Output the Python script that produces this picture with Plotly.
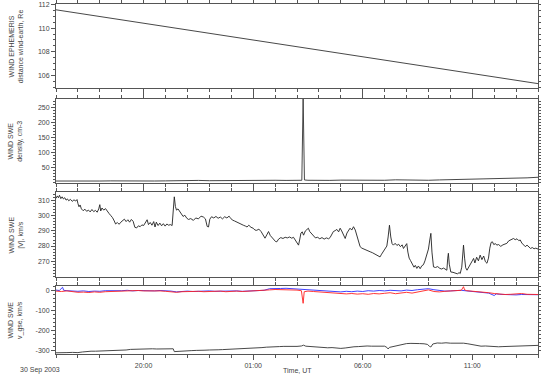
import pandas as pd
import plotly.graph_objects as go

T0 = pd.Timestamp("2003-09-30 16:00")

# ---------------- data (hours after 16:00 UT, 30 Sep 2003) ----------------
EPH_T = [0, 6, 12, 18, 22]
EPH_R = [111.55, 109.85, 108.15, 106.45, 105.3]

DEN_T = [0, 0.5, 1, 1.5, 2, 2.5, 3, 3.5, 4, 4.5, 5, 5.5, 6, 6.5, 7, 7.5, 8, 8.5, 9, 9.5,
         10, 10.5, 11, 11.22, 11.28, 11.34, 11.5, 12, 12.5, 13, 13.5, 14, 14.5, 15, 15.5,
         16, 16.5, 17, 17.5, 18, 18.5, 19, 19.5, 20, 20.5, 21, 21.5, 22]
DEN_N = [6.5, 6.0, 6.8, 6.2, 6.5, 7.0, 6.3, 6.8, 7.2, 6.6, 7.0, 7.8, 7.2, 8.5, 7.6, 8.0,
         9.5, 8.2, 8.8, 10.0, 9.0, 8.5, 9.2, 9.0, 280, 10.0, 9.0, 8.0, 8.6, 9.5, 8.8, 9.2,
         8.4, 9.0, 10.5, 9.5, 10.0, 9.0, 10.2, 11.0, 10.0, 11.5, 12.5, 13.0, 14.5, 15.5,
         17.0, 19.0]

V_T = [0.00, 0.06, 0.11, 0.16, 0.22, 0.28, 0.34, 0.40, 0.46, 0.52, 0.58, 0.66, 0.74, 0.82,
       0.90, 0.96, 1.00, 1.05, 1.10, 1.16, 1.24, 1.32, 1.40, 1.48, 1.56, 1.64, 1.72, 1.80,
       1.88, 1.95, 2.00, 2.04, 2.10, 2.18, 2.26, 2.34, 2.42, 2.50, 2.58, 2.66, 2.72, 2.80,
       2.88, 2.96, 3.04, 3.12, 3.20, 3.28, 3.36, 3.44, 3.52, 3.60, 3.68, 3.76, 3.84, 3.92,
       4.00, 4.08, 4.16, 4.22, 4.30, 4.38, 4.46, 4.52, 4.58, 4.66, 4.74, 4.82, 4.90, 4.98,
       5.06, 5.14, 5.22, 5.30, 5.36, 5.40, 5.45, 5.50, 5.57, 5.64, 5.72, 5.80, 5.88, 5.97,
       6.05, 6.15, 6.27, 6.38, 6.50, 6.62, 6.73, 6.82, 6.90, 6.96, 7.02, 7.10, 7.20, 7.30,
       7.40, 7.50, 7.60, 7.70, 7.80, 7.90, 7.95, 8.05, 8.15, 8.25, 8.35, 8.45, 8.55, 8.65,
       8.72, 8.80, 8.90, 9.00, 9.08, 9.16, 9.26, 9.36, 9.46, 9.54, 9.62, 9.70, 9.78, 9.86,
       9.94, 10.02, 10.08, 10.16, 10.26, 10.36, 10.46, 10.56, 10.66, 10.76, 10.84, 10.94,
       11.02, 11.07, 11.12, 11.18, 11.24, 11.30, 11.38, 11.46, 11.52, 11.58, 11.66, 11.75,
       11.84, 11.94, 12.04, 12.14, 12.24, 12.34, 12.44, 12.51, 12.58, 12.66, 12.74, 12.82,
       12.90, 12.97, 13.04, 13.12, 13.20, 13.28, 13.36, 13.42, 13.50, 13.58, 13.66, 13.74,
       13.82, 13.88, 13.96, 14.04, 14.14, 14.24, 14.34, 14.44, 14.54, 14.64, 14.72, 14.79,
       14.86, 14.94, 15.02, 15.10, 15.16, 15.22, 15.28, 15.34, 15.40, 15.48, 15.56, 15.64,
       15.72, 15.80, 15.86, 15.94, 16.01, 16.06, 16.12, 16.18, 16.26, 16.34, 16.40, 16.47,
       16.54, 16.62, 16.70, 16.77, 16.84, 16.93, 17.00, 17.06, 17.11, 17.16, 17.23, 17.32,
       17.42, 17.52, 17.60, 17.69, 17.76, 17.84, 17.88, 17.91, 17.95, 18.02, 18.12, 18.22,
       18.32, 18.40, 18.45, 18.52, 18.56, 18.60, 18.65, 18.70, 18.76, 18.84, 18.92, 19.00,
       19.06, 19.12, 19.20, 19.28, 19.36, 19.44, 19.52, 19.60, 19.67, 19.74, 19.80, 19.86,
       19.92, 19.98, 20.06, 20.12, 20.20, 20.30, 20.40, 20.50, 20.58, 20.66, 20.76, 20.88,
       20.96, 21.04, 21.12, 21.19, 21.26, 21.34, 21.42, 21.50, 21.58, 21.66, 21.74, 21.82,
       21.90, 22.00]
V_MAG = [311.6, 313.2, 312.0, 313.6, 311.4, 312.6, 311.2, 312.0, 310.4, 311.2, 310.0, 310.9,
         309.6, 310.6, 309.8, 310.8, 308.2, 306.0, 307.2, 304.6, 303.4, 304.4, 303.0, 303.8,
         302.6, 304.2, 302.8, 303.6, 302.4, 304.6, 307.4, 303.2, 305.2, 303.8, 304.8, 302.8,
         301.6, 300.2, 298.8, 296.6, 294.6, 295.6, 294.4, 295.8, 296.8, 297.8, 296.2, 297.4,
         295.8, 297.6, 296.4, 292.4, 292.0, 293.4, 292.8, 294.0, 293.6, 295.2, 297.4, 294.2,
         295.6, 293.8, 296.2, 292.6, 295.8, 293.6, 295.2, 293.4, 294.8, 293.2, 294.6, 293.8,
         294.2, 293.6, 306.0, 312.6, 306.2, 303.8, 304.6, 303.2, 300.8, 299.6, 300.4, 298.4,
         297.6, 298.2, 297.0, 298.6, 298.0, 299.8, 299.2, 298.0, 293.0, 292.6, 297.8, 299.4,
         298.6, 299.6, 298.4, 299.2, 298.0, 299.4, 298.6, 299.8, 298.8, 297.2, 296.6, 295.8,
         295.2, 294.6, 293.8, 293.2, 292.6, 293.8, 292.4, 291.8, 290.6, 290.4, 291.2, 289.6,
         287.0, 285.2, 287.4, 289.6, 287.0, 285.6, 284.2, 283.0, 282.8, 284.6, 285.6, 285.0,
         285.8, 285.4, 286.0, 285.2, 285.8, 283.4, 281.6, 280.6, 284.0, 288.6, 289.4, 287.2,
         290.0, 290.8, 291.8, 289.6, 288.2, 286.2, 285.4, 285.8, 284.8, 285.6, 284.6, 285.4,
         284.8, 285.6, 287.8, 289.6, 290.2, 291.0, 289.4, 291.8, 290.0, 287.0, 285.0, 288.6,
         290.4, 291.8, 290.6, 292.8, 290.6, 286.8, 282.0, 279.6, 278.6, 278.0, 277.2, 276.6,
         276.2, 275.6, 274.8, 274.0, 273.4, 272.8, 274.6, 276.2, 278.4, 280.0, 286.0, 293.8,
         286.0, 281.6, 280.6, 281.8, 280.4, 281.2, 279.6, 280.8, 278.4, 280.4, 281.6, 276.0,
         272.0, 270.4, 268.2, 266.0, 267.2, 265.2, 266.8, 265.0, 267.0, 267.6, 270.2, 273.8,
         278.0, 284.0, 288.4, 276.0, 266.2, 265.8, 266.4, 265.2, 264.8, 265.4, 264.6, 264.0,
         272.0, 275.2, 268.0, 262.8, 262.6, 262.0, 261.6, 262.4, 261.8, 266.0, 274.0, 280.6,
         272.0, 265.6, 264.0, 266.4, 268.0, 270.2, 271.8, 268.8, 272.6, 270.2, 274.0, 271.0,
         273.4, 269.6, 268.6, 272.0, 278.6, 282.4, 282.8, 281.0, 281.6, 280.6, 281.0, 279.8,
         280.8, 281.4, 281.8, 283.4, 284.2, 285.0, 284.2, 284.8, 283.6, 284.0, 282.0, 280.4,
         279.6, 280.6, 279.4, 278.4, 279.0, 278.2, 278.6, 278.0]

VX_T = [0.0, 0.25, 0.5, 0.75, 1.0, 1.2, 1.4, 1.6, 1.8, 2.0, 2.2, 2.4, 2.6, 2.8, 3.0, 3.2,
        3.4, 3.6, 3.8, 4.0, 4.2, 4.4, 4.6, 4.8, 5.0, 5.2, 5.35, 5.40, 5.6, 5.8, 6.0, 6.2,
        6.4, 6.6, 6.8, 7.0, 7.2, 7.4, 7.6, 7.8, 8.0, 8.2, 8.4, 8.6, 8.8, 9.0, 9.2, 9.4,
        9.6, 9.8, 10.0, 10.2, 10.4, 10.6, 10.8, 11.0, 11.2, 11.3, 11.4, 11.6, 11.8, 12.0,
        12.2, 12.4, 12.6, 12.8, 13.0, 13.2, 13.4, 13.6, 13.8, 14.0, 14.2, 14.4, 14.6, 14.8,
        15.0, 15.1, 15.16, 15.22, 15.4, 15.6, 15.8, 16.0, 16.2, 16.4, 16.6, 16.8, 16.95,
        17.05, 17.11, 17.2, 17.4, 17.6, 17.8, 18.0, 18.2, 18.4, 18.6, 18.8, 19.0, 19.2,
        19.4, 19.6, 19.8, 20.0, 20.2, 20.4, 20.6, 20.8, 21.0, 21.2, 21.4, 21.6, 21.8, 22.0]
VX = [-310, -311, -309, -308, -309, -306, -303, -302, -302, -301, -302, -300, -299, -300,
      -298, -296, -293, -292, -291, -290, -291, -290, -291, -290, -289, -290, -290, -304,
      -302, -300, -301, -299, -298, -299, -297, -296, -297, -295, -294, -293, -293, -292,
      -291, -290, -288, -289, -286, -284, -282, -280, -281, -279, -278, -279, -277, -278,
      -276, -272, -277, -279, -281, -282, -283, -285, -284, -287, -288, -286, -282, -280,
      -279, -277, -276, -277, -276, -275, -277, -283, -291, -283, -278, -272, -268, -264,
      -263, -265, -264, -265, -268, -278, -281, -266, -261, -262, -260, -262, -261, -260,
      -262, -265, -270, -274, -277, -276, -278, -279, -280, -279, -278, -276, -275, -274,
      -273, -273, -272, -273]

VY_T = [0.0, 0.15, 0.3, 0.35, 0.5, 0.75, 1.0, 1.25, 1.5, 1.75, 2.0, 2.25, 2.5, 2.75, 3.0,
        3.25, 3.5, 3.75, 4.0, 4.25, 4.5, 4.75, 5.0, 5.25, 5.5, 5.75, 6.0, 6.25, 6.5, 6.75,
        7.0, 7.25, 7.5, 7.75, 8.0, 8.25, 8.5, 8.75, 9.0, 9.25, 9.5, 9.75, 10.0, 10.25, 10.5,
        10.75, 11.0, 11.25, 11.5, 11.75, 12.0, 12.25, 12.5, 12.75, 13.0, 13.25, 13.5, 13.75,
        14.0, 14.25, 14.5, 14.75, 15.0, 15.25, 15.5, 15.75, 16.0, 16.25, 16.5, 16.75, 17.0,
        17.25, 17.5, 17.75, 18.0, 18.25, 18.5, 18.75, 19.0, 19.25, 19.5, 19.75, 20.0, 20.1,
        20.25, 20.5, 20.75, 21.0, 21.25, 21.5, 21.75, 22.0]
VY = [3, 1, 17, 2, 0, -2, -3, -1, -4, -2, -3, 0, -1, 1, 0, 2, -1, 1, 0, 2, -1, 1, 0, -2,
      -6, -3, -2, -4, -2, -3, -1, -3, -2, -4, -2, -1, -3, -2, -1, 0, 2, 10, 12, 11, 12, 10,
      9, 6, 5, 3, 2, 0, -2, -4, -6, -3, -5, -2, -4, 0, -2, 1, -1, 2, 0, -1, 3, 1, 5, 8, 10,
      5, 1, -2, -1, 0, 2, -1, -3, -6, -8, -12, -24, -16, -18, -20, -19, -21, -19, -20, -22,
      -20]

VZ_T = [0.0, 0.25, 0.5, 0.75, 1.0, 1.25, 1.5, 1.75, 2.0, 2.25, 2.5, 2.75, 3.0, 3.25, 3.5,
        3.75, 4.0, 4.25, 4.5, 4.75, 5.0, 5.25, 5.5, 5.75, 6.0, 6.25, 6.5, 6.75, 7.0, 7.25,
        7.5, 7.75, 8.0, 8.25, 8.5, 8.75, 9.0, 9.25, 9.5, 9.75, 10.0, 10.25, 10.5, 10.75,
        11.0, 11.2, 11.28, 11.33, 11.5, 11.75, 12.0, 12.25, 12.5, 12.75, 13.0, 13.25, 13.5,
        13.75, 14.0, 14.25, 14.5, 14.75, 15.0, 15.25, 15.5, 15.75, 16.0, 16.25, 16.5, 16.75,
        17.0, 17.25, 17.5, 17.75, 18.0, 18.25, 18.5, 18.6, 18.65, 18.75, 19.0, 19.25, 19.5,
        19.75, 20.0, 20.25, 20.5, 20.75, 21.0, 21.25, 21.5, 21.75, 22.0]
VZ = [-2, -4, -1, -6, -8, -7, -9, -6, -8, -5, -4, -2, -3, 0, -2, 1, -1, 0, -2, -1, -3, -5,
      -8, -5, -4, -6, -3, -5, -3, -4, -2, -5, -3, -2, -4, -3, -2, -1, 1, 4, 6, 5, 7, 4, 3,
      0, -63, -5, -2, -4, -6, -8, -10, -9, -12, -16, -14, -17, -15, -18, -14, -16, -13, -10,
      -15, -12, -8, -12, -6, -2, 4, -4, -6, -3, -2, 0, 2, 20, 4, 0, -2, -4, -6, -10, -14,
      -17, -19, -18, -16, -14, -18, -20, -19]

XTICK_T = [4, 9, 14, 19]
XTICK_TEXT = ["20:00", "01:00", "06:00", "11:00"]

Y1_TICKS = [106, 108, 110, 112]
Y2_TICKS = [50, 100, 150, 200, 250]
Y3_TICKS = [270, 280, 290, 300, 310]
Y4_TICKS = [0, -100, -200, -300]
Y4_TEXT = ["0", "-100", "-200", "-300"]

TITLES = ["WIND EPHEMERIS<br>distance wind-earth, Re", "WIND SWE<br>density, cm-3",
          "WIND SWE<br>|V|, km/s", "WIND SWE<br>v_gse, km/s"]


def tt(hours):
    return [T0 + pd.Timedelta(hours=h) for h in hours]


FONT = dict(family="Liberation Sans, Arial, sans-serif", size=7, color="#444")
AXC = "#555"

fig = go.Figure()
lw = 0.9
fig.add_trace(go.Scatter(x=tt(EPH_T), y=EPH_R, mode="lines", line=dict(color="#333", width=lw),
                         xaxis="x", yaxis="y"))
fig.add_trace(go.Scatter(x=tt(DEN_T), y=DEN_N, mode="lines", line=dict(color="#333", width=lw),
                         xaxis="x2", yaxis="y2"))
fig.add_trace(go.Scatter(x=tt(V_T), y=V_MAG, mode="lines", line=dict(color="#222", width=lw),
                         xaxis="x3", yaxis="y3"))
fig.add_trace(go.Scatter(x=tt(VX_T), y=VX, mode="lines", line=dict(color="#333", width=lw),
                         xaxis="x4", yaxis="y4"))
fig.add_trace(go.Scatter(x=tt(VY_T), y=VY, mode="lines", line=dict(color="#2a2aff", width=lw),
                         xaxis="x4", yaxis="y4"))
fig.add_trace(go.Scatter(x=tt(VZ_T), y=VZ, mode="lines", line=dict(color="#ff2020", width=lw),
                         xaxis="x4", yaxis="y4"))

xr = [T0, T0 + pd.Timedelta(hours=22)]
xt = tt(XTICK_T)
domains = [(0.76, 0.9986), (0.4886, 0.7294), (0.22, 0.4629), (0.0, 0.1943)]


def xaxis(i):
    d = dict(type="date", range=xr, domain=[0, 1], showgrid=False, zeroline=False,
             automargin=False,
             showline=True, linecolor=AXC, linewidth=1, mirror="ticks",
             ticks="outside", ticklen=5, tickcolor=AXC, tickwidth=1,
             tickvals=xt, ticktext=XTICK_TEXT, tickfont=FONT,
             minor=dict(dtick=3600000, tick0=T0, ticks="outside", ticklen=3, tickcolor=AXC,
                        showgrid=False),
             anchor="y" if i == 1 else f"y{i}")
    if i != 4:
        d["showticklabels"] = False
        d["matches"] = "x4"
    return d


def yaxis(i, rng, tv, tx, minor_dt):
    return dict(domain=list(domains[i - 1]), range=rng, showgrid=False, zeroline=False,
                automargin=False,
                showline=True, linecolor=AXC, linewidth=1, mirror="ticks",
                ticks="outside", ticklen=4, tickcolor=AXC, tickwidth=1,
                tickvals=tv, ticktext=tx, tickfont=FONT,
                minor=dict(dtick=minor_dt, ticks="outside", ticklen=2, tickcolor=AXC,
                           showgrid=False),
                anchor="x" if i == 1 else f"x{i}")


layout = dict(
    width=541, height=382, showlegend=False, hovermode=False,
    margin=dict(l=56, r=3, t=4, b=28, autoexpand=False),
    paper_bgcolor="white", plot_bgcolor="white", font=FONT,
    xaxis=xaxis(1), xaxis2=xaxis(2), xaxis3=xaxis(3), xaxis4=xaxis(4),
    yaxis=yaxis(1, [104.93, 112], Y1_TICKS, [str(v) for v in Y1_TICKS], 0.5),
    yaxis2=yaxis(2, [0, 279], Y2_TICKS, [str(v) for v in Y2_TICKS], 10),
    yaxis3=yaxis(3, [259.5, 315.8], Y3_TICKS, [str(v) for v in Y3_TICKS], 2),
    yaxis4=yaxis(4, [-316, 23.5], Y4_TICKS, Y4_TEXT, 20),
)
fig.update_layout(**layout)

for title, (d0, d1) in zip(TITLES, domains):
    fig.add_annotation(text=title, xref="paper", yref="paper", x=-0.083, y=(d0 + d1) / 2,
                       textangle=-90, showarrow=False, xanchor="center", yanchor="middle",
                       font=dict(family=FONT["family"], size=7, color="#444"))

fig.add_annotation(text="30 Sep 2003", xref="paper", yref="paper", x=-0.079, y=-0.046,
                   xanchor="left", yanchor="middle", showarrow=False, font=FONT)
fig.add_annotation(text="Time, UT", xref="paper", yref="paper", x=0.5, y=-0.046,
                   xanchor="center", yanchor="middle", showarrow=False, font=FONT)

fig.write_html("out.html", config={"displayModeBar": False, "staticPlot": True},
               post_script="document.body.style.margin='0';document.body.style.overflow='hidden';")
